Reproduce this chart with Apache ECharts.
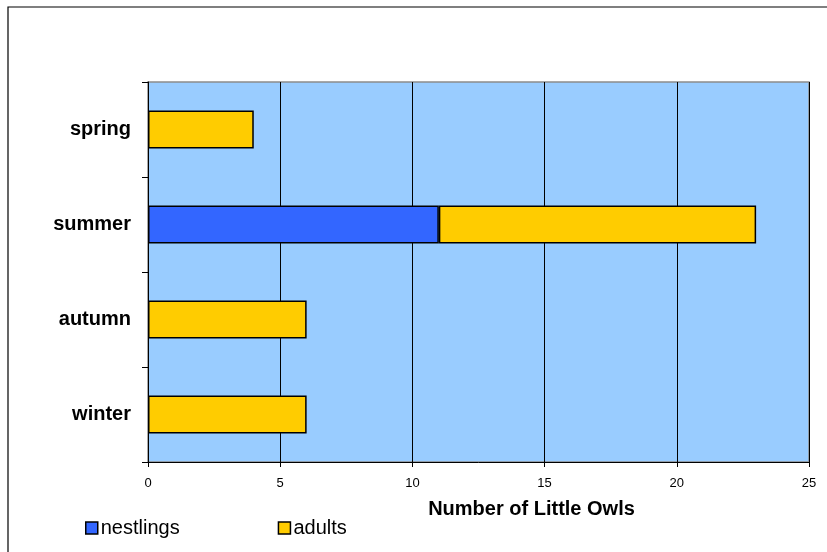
<!DOCTYPE html>
<html>
<head>
<meta charset="utf-8">
<script src="https://cdn.jsdelivr.net/npm/echarts@6/dist/echarts.min.js"></script>
<style>
  html, body { margin: 0; padding: 0; background: #fff; }
  #chart { width: 827px; height: 552px; }
</style>
</head>
<body>
<div id="chart"></div>
<script>
// Little Owl sightings by season
const seasons = ['spring', 'summer', 'autumn', 'winter'];
const nestlings = [null, 11, null, null];
const adults = [4, 12, 6, 6];
const xTicks = [0, 5, 10, 15, 20, 25];

const chart = echarts.init(document.getElementById('chart'));
const font = 'Arial, "Liberation Sans", sans-serif';

chart.setOption({
  animation: false,
  backgroundColor: '#ffffff',
  textStyle: { fontFamily: font },
  graphic: [{
    type: 'rect',
    shape: { x: 8, y: 7, width: 900, height: 700 },
    style: { fill: 'none', stroke: '#000', lineWidth: 1.2 },
    silent: true
  }],
  grid: {
    left: 148, right: 18, top: 82, bottom: 90,
    show: true,
    backgroundColor: '#99CCFF',
    borderColor: '#8c8c8c',
    borderWidth: 1.5
  },
  legend: {
    left: 80, top: 513,
    itemWidth: 12, itemHeight: 12,
    itemGap: 98,
    icon: 'rect',
    textStyle: { fontFamily: font, fontSize: 20, color: '#000', padding: [0, 0, 0, -2] },
    data: [
      { name: 'nestlings', itemStyle: { borderColor: '#000', borderWidth: 1.5 } },
      { name: 'adults', itemStyle: { borderColor: '#000', borderWidth: 1.5 } }
    ]
  },
  xAxis: {
    type: 'value',
    min: xTicks[0], max: xTicks[xTicks.length - 1], interval: 5,
    name: 'Number of Little Owls',
    nameLocation: 'middle',
    nameGap: 37,
    nameTextStyle: { fontFamily: font, fontSize: 20, fontWeight: 'bold', color: '#000', padding: [0, 0, 0, 106] },
    axisLine: { show: true, lineStyle: { color: '#000', width: 1 } },
    axisTick: { show: true, length: 5, lineStyle: { color: '#000' } },
    axisLabel: { fontFamily: font, fontSize: 13, color: '#000', margin: 15 },
    splitLine: { show: true, lineStyle: { color: '#000', width: 1 } }
  },
  yAxis: {
    type: 'category',
    inverse: true,
    data: seasons,
    axisLine: { show: true, lineStyle: { color: '#000', width: 1 } },
    axisTick: { show: true, length: 6, lineStyle: { color: '#000' } },
    axisLabel: { fontFamily: font, fontSize: 20, fontWeight: 'bold', color: '#000', margin: 17, padding: [4, 0, 0, 0] },
    splitLine: { show: false }
  },
  series: [
    {
      name: 'nestlings', type: 'bar', stack: 'owls',
      data: nestlings, barWidth: '40%',
      itemStyle: { color: '#3366FF', borderColor: '#000', borderWidth: 1.5 }
    },
    {
      name: 'adults', type: 'bar', stack: 'owls',
      data: adults, barWidth: '40%',
      itemStyle: { color: '#FFCC00', borderColor: '#000', borderWidth: 1.5 }
    }
  ]
});
</script>
</body>
</html>
